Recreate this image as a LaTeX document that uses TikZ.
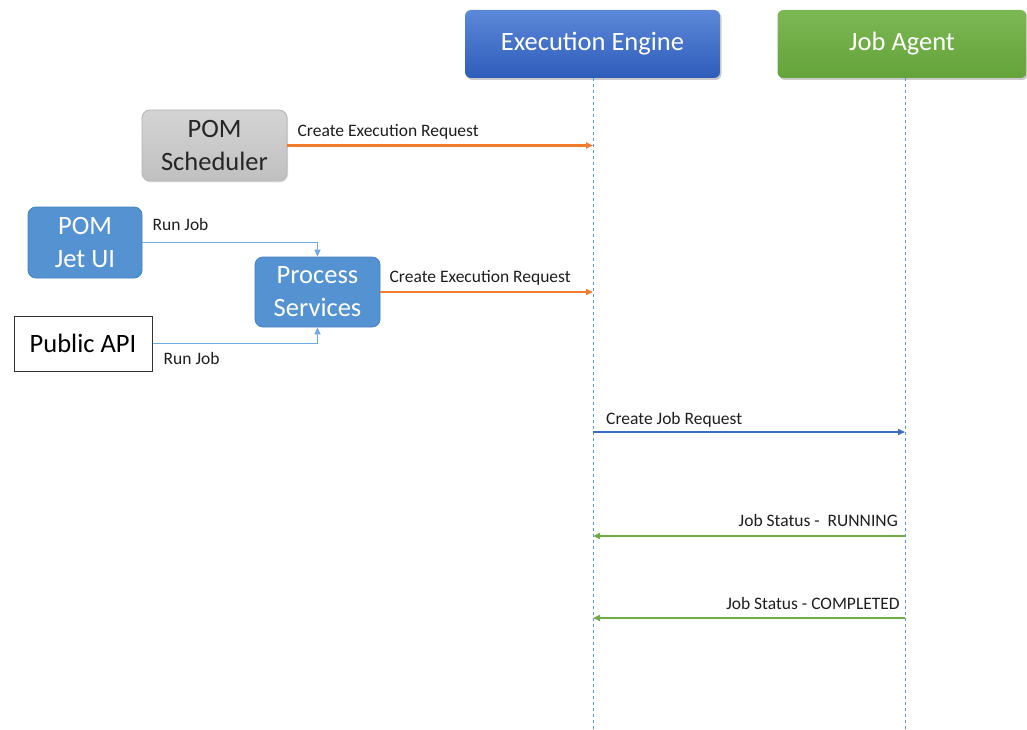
\documentclass[tikz,border=0pt]{standalone}
\usepackage{fontspec}
\setmainfont{Carlito}
\usetikzlibrary{arrows.meta,shadows}
\definecolor{engT}{RGB}{92,136,216}
\definecolor{engB}{RGB}{46,92,186}
\definecolor{agT}{RGB}{124,184,84}
\definecolor{agB}{RGB}{100,162,58}
\definecolor{grayT}{RGB}{212,212,212}
\definecolor{grayB}{RGB}{192,192,192}
\definecolor{grayD}{RGB}{178,178,178}
\definecolor{lblue}{RGB}{84,146,210}
\definecolor{lblueD}{RGB}{70,128,190}
\definecolor{orng}{RGB}{240,125,45}
\definecolor{runb}{RGB}{110,170,228}
\definecolor{lifel}{RGB}{90,150,220}
\definecolor{grn}{RGB}{112,173,71}
\definecolor{blu}{RGB}{60,108,200}
\definecolor{txt}{RGB}{30,30,30}
\tikzset{
  big/.style={font=\fontsize{26.5}{33}\selectfont, align=center, inner sep=0pt},
  hdr/.style={big, rounded corners=6pt, minimum height=68pt, text=white,
     drop shadow={shadow xshift=1.5pt, shadow yshift=-2pt, opacity=0.35, fill=black!60}},
  lbl/.style={font=\fontsize{17.5}{19}\selectfont, text=txt, inner sep=0pt},
  lifeline/.style={draw=lifel, line width=1pt, dash pattern=on 3pt off 3pt},
  tip/.style={-{Triangle[length=7pt,width=6pt]}},
}
\begin{document}
\begin{tikzpicture}[x=1pt,y=-1pt]
\useasboundingbox (0,0) rectangle (1027,730);
% headers
\node[hdr, top color=engT, bottom color=engB, minimum width=255pt] (eng) at (592.5,44) {Execution Engine};
\node[hdr, top color=agT, bottom color=agB, minimum width=249pt] (agent) at (902,44) {Job Agent};
% lifelines
\coordinate (eTop) at (593,78);
\coordinate (eBot) at (593,730);
\coordinate (aTop) at (905,78);
\coordinate (aBot) at (905,730);
\draw[lifeline] (eTop) -- (eBot);
\draw[lifeline] (aTop) -- (aBot);
% left boxes
\node[big, rounded corners=8pt, top color=grayT, bottom color=grayB, draw=grayD, line width=0.8pt,
      minimum width=145pt, minimum height=71pt, text=black!85,
      drop shadow={shadow xshift=1pt, shadow yshift=-1.5pt, opacity=0.25, fill=black!50}] (sched) at (214.5,145.5) {POM\\Scheduler};
\node[big, rounded corners=8pt, fill=lblue, draw=lblueD, line width=0.8pt,
      minimum width=114pt, minimum height=71pt, text=white] (jet) at (85,242.5) {POM\\Jet UI};
\node[big, rounded corners=8pt, fill=lblue, draw=lblueD, line width=0.8pt,
      minimum width=125pt, minimum height=70pt, text=white] (proc) at (317.5,292) {Process\\Services};
\node[big, draw=black!80, line width=1pt, fill=white,
      minimum width=138pt, minimum height=55pt, text=black] (api) at (83,343.5) {Public API};
% run job connectors
\draw[runb, line width=1.5pt, tip] (jet.east) -| (proc.north);
\draw[runb, line width=1.5pt, tip] (api.east) -| (proc.south);
\node[lbl, anchor=base west] (rj1) at ([xshift=10pt,yshift=12pt]jet.east) {Run Job};
\node[lbl, anchor=base west] (rj2) at ([xshift=11pt,yshift=-21pt]api.east) {Run Job};
% create execution requests
\draw[orng, line width=2.2pt, tip] (sched.east) -- (sched.east -| eTop);
\node[lbl, anchor=base west] (cer1) at ([xshift=10pt,yshift=9pt]sched.east) {Create Execution Request};
\draw[orng, line width=2.2pt, tip] (proc.east) -- (proc.east -| eTop);
\node[lbl, anchor=base west] (cer2) at ([xshift=9pt,yshift=10pt]proc.east) {Create Execution Request};
% job request
\coordinate (e3) at (593,432);
\coordinate (e4) at (593,536);
\coordinate (e5) at (593,618);
\draw[blu, line width=2pt, tip] (e3) -- (e3 -| aTop);
\node[lbl, anchor=base west] (cjr) at ([xshift=13pt,yshift=8pt]e3) {Create Job Request};
\draw[grn, line width=2.6pt, tip] (e4 -| aTop) -- (e4);
\node[lbl, anchor=base east] (js1) at ([xshift=-7pt,yshift=10pt]e4 -| aTop) {Job Status -\ \ RUNNING};
\draw[grn, line width=2.6pt, tip] (e5 -| aTop) -- (e5);
\node[lbl, anchor=base east] (js2) at ([xshift=-5pt,yshift=9pt]e5 -| aTop) {Job Status - COMPLETED};
\end{tikzpicture}
\end{document}
